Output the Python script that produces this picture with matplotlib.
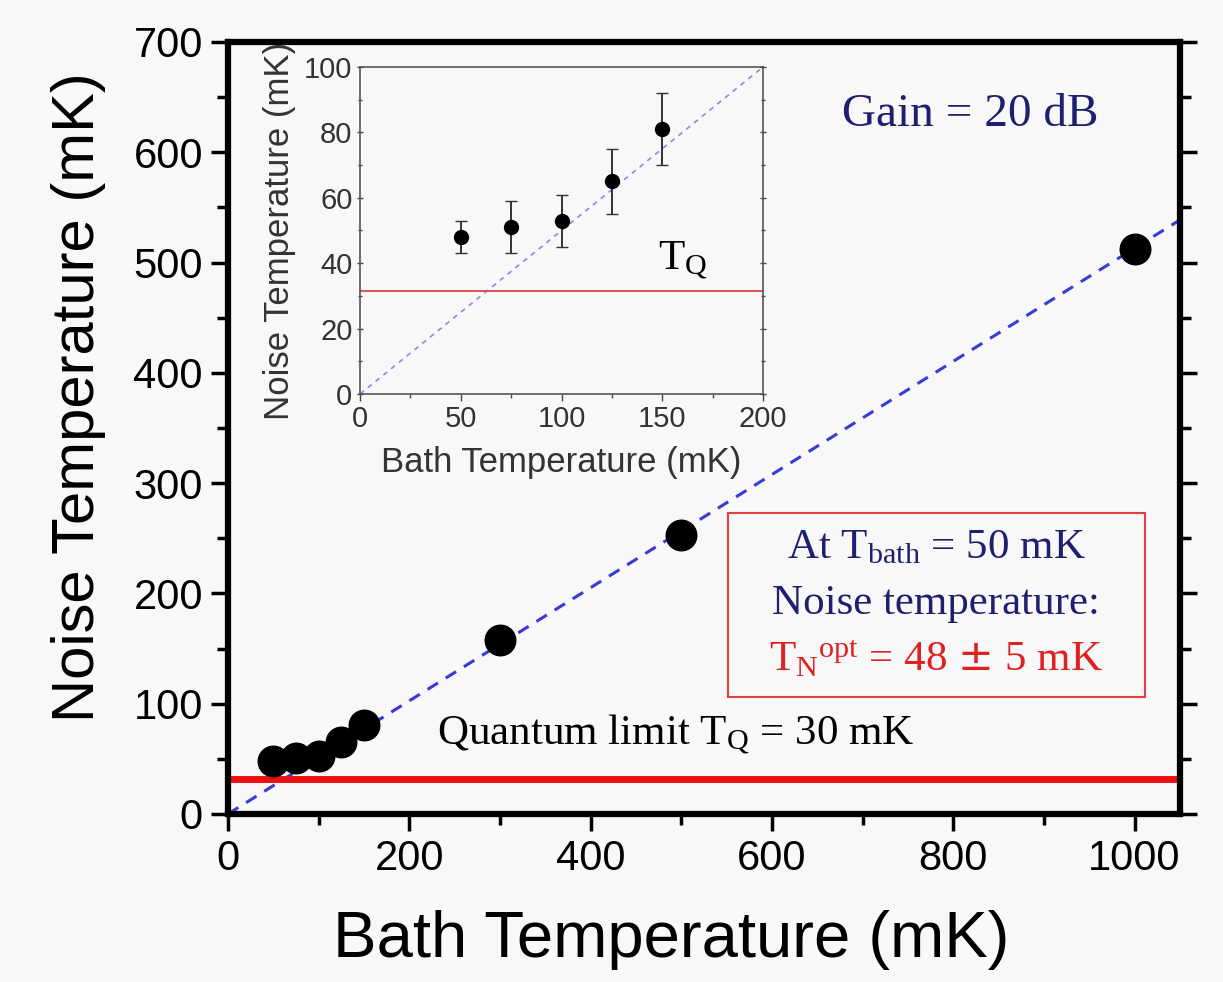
import matplotlib

matplotlib.use("Agg")
import matplotlib.pyplot as plt
from matplotlib.patches import Rectangle
from matplotlib.ticker import MultipleLocator

# main panel: noise temperature vs bath temperature (mK)
bath_t = [50, 75, 100, 125, 150, 300, 500, 1000]
noise_t = [48, 51, 53, 65, 81, 158, 253, 512]
fit_slope = 0.513
quantum_limit = 32

# inset: low-temperature points with error bars
inset_bath = [50, 75, 100, 125, 150]
inset_noise = [48, 51, 53, 65, 81]
inset_err_lo = [5, 8, 8, 10, 11]
inset_err_hi = [5, 8, 8, 10, 11]
inset_slope = 0.5
inset_limit = 31.5

BG = "#f8f8f8"
NAVY = "#1f1f70"
SANS = ["Liberation Sans", "DejaVu Sans"]
SERIF = ["Liberation Serif", "DejaVu Serif"]

fig = plt.figure(figsize=(12.23, 9.82), dpi=100, facecolor=BG)
ax = fig.add_axes([0.1864, 0.1711, 0.7784, 0.7862], facecolor=BG)

ax.plot([0, 1050], [0, 1050 * fit_slope], ls=(0, (4, 3)), color="#3a3ad8", lw=2.2, zorder=2)
ax.axhline(quantum_limit, color="#ee1111", lw=5, zorder=2)
ax.plot(bath_t, noise_t, "o", color="black", ms=22, zorder=3)

ax.set_xlim(0, 1050)
ax.set_ylim(0, 700)
ax.xaxis.set_major_locator(MultipleLocator(200))
ax.xaxis.set_minor_locator(MultipleLocator(100))
ax.yaxis.set_major_locator(MultipleLocator(100))
ax.yaxis.set_minor_locator(MultipleLocator(50))
ax.tick_params(which="both", direction="out", width=2.5, top=False, right=True,
               labelsize=30, pad=6)
ax.tick_params(which="major", length=12)
ax.tick_params(which="minor", length=8)
for lbl in ax.get_xticklabels() + ax.get_yticklabels():
    lbl.set_family(SANS)
for s in ax.spines.values():
    s.set_linewidth(4.5)
ax.set_xlabel("Bath Temperature (mK)", fontsize=47, family=SANS)
ax.set_ylabel("Noise Temperature (mK)", fontsize=43, family=SANS)
ax.xaxis.set_label_coords(0.466, -0.125)
ax.yaxis.set_label_coords(-0.128, 0.54)

ax.text(819, 634, "Gain = 20 dB", fontsize=34, family=SERIF, color=NAVY,
        ha="center", va="center")
ax.text(494, 72, r"Quantum limit $\mathregular{T_Q}$ = 30 mK", fontsize=31, family=SERIF,
        color="black", ha="center", va="center")

# result box
ax.add_patch(Rectangle((551, 106), 461, 167, fc=BG, ec="#e04040", lw=1.5, zorder=4))
ax.text(781, 241, r"At $\mathregular{T_{bath}}$ = 50 mK", fontsize=31, family=SERIF,
        color=NAVY, ha="center", va="center", zorder=5)
ax.text(781, 191, "Noise temperature:", fontsize=31, family=SERIF, color=NAVY,
        ha="center", va="center", zorder=5)
ax.text(781, 140, r"$\mathregular{T_N{}^{opt}}$ = 48 $\pm$ 5 mK", fontsize=31,
        family=SERIF, color="#e02020", ha="center", va="center", zorder=5)

# inset
ins = fig.add_axes([0.2944, 0.5988, 0.3295, 0.333], facecolor=BG)
ins.plot([0, 200], [0, 200 * inset_slope], ls=(0, (3, 3)), color="#8888ee", lw=1.2)
ins.axhline(inset_limit, color="#d84848", lw=1.3)
ins.errorbar(inset_bath, inset_noise, yerr=[inset_err_lo, inset_err_hi], fmt="o",
             color="black", ms=10, ecolor="#333333", elinewidth=1.4, capsize=4)
ins.set_xlim(0, 200)
ins.set_ylim(0, 100)
ins.xaxis.set_major_locator(MultipleLocator(50))
ins.xaxis.set_minor_locator(MultipleLocator(25))
ins.yaxis.set_major_locator(MultipleLocator(20))
ins.yaxis.set_minor_locator(MultipleLocator(10))
ins.tick_params(which="both", direction="out", color="#444444", labelcolor="#333333",
                labelsize=21, pad=3, width=1)
ins.tick_params(which="major", length=5)
ins.tick_params(which="minor", length=3)
ins.tick_params(axis="y", which="both", right=True, direction="inout")
for lbl in ins.get_xticklabels() + ins.get_yticklabels():
    lbl.set_family(SANS)
for s in ins.spines.values():
    s.set_linewidth(1.2)
    s.set_color("#555555")
ins.set_xlabel("Bath Temperature (mK)", fontsize=25, family=SANS, color="#333333", labelpad=9)
ins.set_ylabel("Noise Temperature (mK)", fontsize=25, family=SANS, color="#333333", labelpad=6)
ins.text(160, 41, r"$\mathregular{T_Q}$", fontsize=31, family=SERIF, color="black",
         ha="center", va="center")

fig.savefig("out.png", dpi=100, facecolor=BG)
